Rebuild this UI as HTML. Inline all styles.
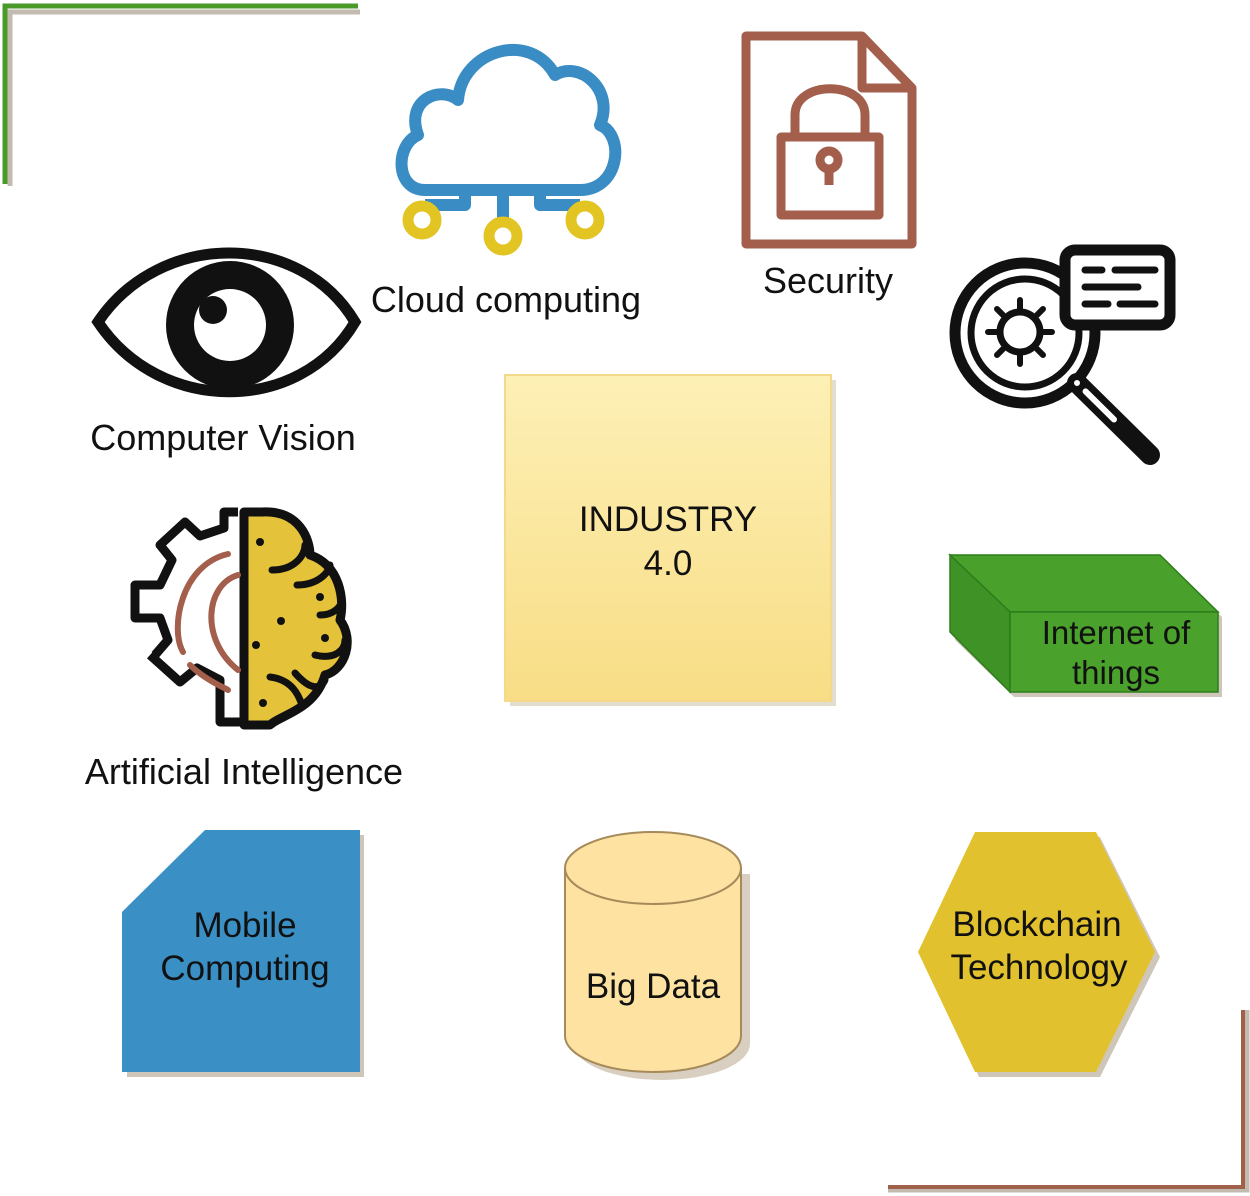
<!DOCTYPE html>
<html><head><meta charset="utf-8"><style>
html,body{margin:0;padding:0;background:#fff;}
svg{display:block;font-family:"Liberation Sans",sans-serif;}
</style></head><body>
<svg width="1250" height="1196" viewBox="0 0 1250 1196">
<defs>
<linearGradient id="ig" x1="0" y1="0" x2="0" y2="1">
<stop offset="0" stop-color="#fdf0b6"/><stop offset="1" stop-color="#f8dd85"/>
</linearGradient>
</defs>
<!-- corners -->
<path d="M10 186 V12 H360" fill="none" stroke="#c4bbb0" stroke-width="5"/>
<path d="M5 184 V6 H358" fill="none" stroke="#4a9a2a" stroke-width="5"/>
<path d="M888 1190 H1247 V1010" fill="none" stroke="#c4bbb0" stroke-width="5"/>
<path d="M888 1187 H1243 V1010" fill="none" stroke="#a0604a" stroke-width="4"/>

<!-- cloud -->
<g fill="none" stroke="#3a8cc4" stroke-width="12" stroke-linejoin="round">
<path d="M440 190 H425 C395 190 395 145 418 135 C405 100 440 85 458 100 C462 50 530 30 555 75 C580 60 615 90 600 125 C625 135 620 190 580 190 H440 Z"/>
<path d="M465 190 V205 H425 M503 190 V225 M540 190 V205 H580"/>
</g>
<g fill="none" stroke="#e2c422" stroke-width="11">
<circle cx="422" cy="220" r="14"/><circle cx="503" cy="236" r="14"/><circle cx="585" cy="220" r="14"/>
</g>
<text x="506" y="312" font-size="36" text-anchor="middle" fill="#111">Cloud computing</text>

<!-- security -->
<g fill="none" stroke="#a35f4c" stroke-width="9" stroke-linejoin="round">
<path d="M746 36 H862 L912 88 V244 H746 Z"/>
<path d="M862 36 V88 H912"/>
<rect x="781" y="137" width="98" height="78"/>
<path d="M795 137 V115 C795 80 865 80 865 115 V137"/>
<path d="M829 185 V170"/><circle cx="829" cy="160" r="9"/>
</g>
<text x="828" y="293" font-size="36" text-anchor="middle" fill="#111">Security</text>

<!-- eye -->
<path d="M98 322 C160 230 300 230 355 322 C300 415 160 415 98 322 Z" fill="none" stroke="#111" stroke-width="11"/>
<circle cx="230" cy="325" r="64" fill="#111"/>
<circle cx="230" cy="325" r="36" fill="#fff"/>
<circle cx="213" cy="310" r="14" fill="#111"/>
<text x="223" y="450" font-size="36" text-anchor="middle" fill="#111">Computer Vision</text>

<!-- magnifier -->
<g fill="none" stroke="#111" stroke-width="11" stroke-linecap="round">
<circle cx="1025" cy="333" r="70"/>
<circle cx="1025" cy="333" r="54" stroke-width="7"/>
<path d="M1077 383 L1150 455" stroke-width="20"/>
<rect x="1065" y="250" width="105" height="75" rx="10" fill="#fff"/>
<path d="M1085 270 H1102 M1115 270 H1155 M1085 287 H1138 M1085 304 H1108 M1120 304 H1155" stroke-width="7"/>
<circle cx="1020" cy="332" r="20" stroke-width="7"/>
<path d="M1020 300 V310 M1020 354 V364 M988 332 H998 M1042 332 H1052 M997 309 L1003 315 M1037 349 L1043 355 M997 355 L1003 349 M1043 309 L1037 315" stroke-width="6"/>
</g>
<path d="M1077 383 L1150 455" stroke="#fff" stroke-width="6" stroke-linecap="round" stroke-dasharray="0 12 40 100"/>

<!-- industry box -->
<rect x="510" y="380" width="326" height="326" fill="#e3ddd0"/>
<rect x="505" y="375" width="326" height="326" fill="url(#ig)" stroke="#f4d98a" stroke-width="2"/>
<text x="668" y="531" font-size="35" text-anchor="middle" fill="#111">INDUSTRY</text>
<text x="668" y="575" font-size="35" text-anchor="middle" fill="#111">4.0</text>

<!-- AI -->
<path d="M238 512 H224 V528 L200 536 L185 522 L160 545 L172 560 L160 585 H135 V618 H160 L168 640 L155 655 M150 655 L180 682 L197 668 L220 680 V722 H240" fill="none" stroke="#111" stroke-width="9" stroke-linejoin="round"/>
<path d="M244 512 H262 C300 510 310 540 310 555 C340 565 345 600 340 620 C355 640 345 670 325 675 C315 710 280 715 270 725 H244 Z" fill="#e4c23a" stroke="#111" stroke-width="9" stroke-linejoin="round"/>
<g fill="none" stroke="#111" stroke-width="7" stroke-linecap="round">
<path d="M272 570 C295 570 305 555 305 545"/><path d="M297 585 C320 585 330 570 330 565"/>
<path d="M320 615 C335 615 342 605 342 600"/><path d="M315 655 C335 660 345 650 345 640"/>
<path d="M270 677 C295 680 300 700 302 705"/><path d="M295 673 C310 690 320 690 325 680"/>
</g>
<g fill="#111"><circle cx="260" cy="542" r="4"/><circle cx="320" cy="597" r="4"/><circle cx="281" cy="621" r="4"/><circle cx="256" cy="645" r="4"/><circle cx="325" cy="638" r="4"/><circle cx="263" cy="703" r="4"/></g>
<g fill="none" stroke="#a35f4c" stroke-width="6" stroke-linecap="round">
<path d="M228 554 C180 565 170 630 183 652"/><path d="M238 575 C205 585 200 640 238 670"/><path d="M190 665 C205 680 225 688 228 690"/>
</g>
<text x="244" y="784" font-size="36" text-anchor="middle" fill="#111">Artificial Intelligence</text>

<!-- IoT -->
<polygon points="955,560 1164,560 1222,617 1222,697 1014,697 955,640" fill="#cfc6ba"/>
<polygon points="950,555 1160,555 1218,612 1010,612" fill="#49a02a" stroke="#2d7d1a" stroke-width="1.5"/>
<polygon points="950,555 1010,612 1010,692 950,632" fill="#3f9225" stroke="#2d7d1a" stroke-width="1.5"/>
<rect x="1010" y="612" width="208" height="80" fill="#4aa12b" stroke="#2d7d1a" stroke-width="1.5"/>
<text x="1116" y="644" font-size="33" text-anchor="middle" fill="#111">Internet of</text>
<text x="1116" y="684" font-size="33" text-anchor="middle" fill="#111">things</text>

<!-- Mobile -->
<polygon points="209,835 364,835 364,1077 127,1077 127,917" fill="#cfc6ba"/>
<polygon points="205,830 360,830 360,1072 122,1072 122,912" fill="#3a8fc4"/>
<text x="245" y="937" font-size="35" text-anchor="middle" fill="#111">Mobile</text>
<text x="245" y="980" font-size="35" text-anchor="middle" fill="#111">Computing</text>

<!-- Big data -->
<path d="M570 870 V1040 A88 36 0 0 0 746 1040 V870" fill="#d8cfc0" transform="translate(4,4)"/>
<path d="M565 868 V1036 A88 36 0 0 0 741 1036 V868 A88 36 0 0 0 565 868 Z" fill="#fde2a2" stroke="#a58a5a" stroke-width="2"/>
<path d="M565 868 A88 36 0 0 0 741 868" fill="none" stroke="#a58a5a" stroke-width="2"/>
<text x="653" y="998" font-size="35" text-anchor="middle" fill="#111">Big Data</text>

<!-- Blockchain -->
<polygon points="979,837 1100,837 1160,957 1100,1077 979,1077 923,957" fill="#cfc6ba"/>
<polygon points="975,832 1096,832 1155,952 1096,1072 975,1072 918,952" fill="#e2c12e"/>
<text x="1037" y="936" font-size="35" text-anchor="middle" fill="#111">Blockchain</text>
<text x="1039" y="979" font-size="35" text-anchor="middle" fill="#111">Technology</text>
</svg>
</body></html>
